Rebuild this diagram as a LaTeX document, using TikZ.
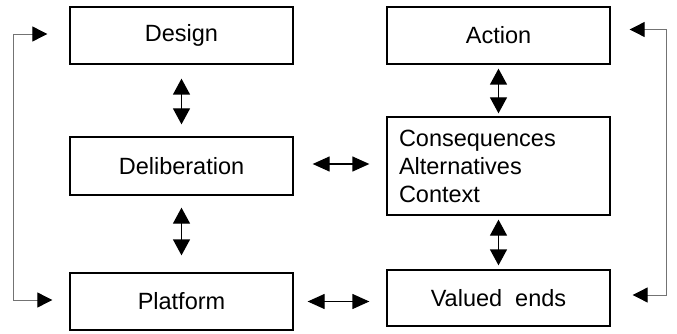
\documentclass[tikz,border=0pt]{standalone}
\usepackage{fontspec}
\setmainfont{Liberation Sans}
\usetikzlibrary{arrows.meta}

\begin{document}
\begin{tikzpicture}[x=1pt,y=-1pt,
  box/.style={draw, line width=1.3pt, minimum width=223pt, inner sep=0pt,
    font=\fontsize{23.5}{28}\selectfont},
  vdbl/.style={line width=1.3pt,
    {Triangle[length=16pt,width=17pt]}-{Triangle[length=16pt,width=17pt]}},
  hdbl/.style={line width=1.3pt,
    {Triangle[length=17pt,width=15pt]}-{Triangle[length=17pt,width=15pt]}},
  feedback/.style={line width=0.9pt, draw=black!55,
    -{Triangle[length=15pt,width=15pt,color=black]}},
]
\useasboundingbox (0,0) rectangle (677,334);

% left column
\node[box, minimum height=57pt] (design) at (181.5,35.5) {Design};
\node[box, minimum height=58pt] (delib)  at (181.5,166)  {Deliberation};
\node[box, minimum height=57pt] (plat)   at (181.5,301.5) {Platform};

% right column
\node[box, minimum height=57pt] (action) at (498.5,35.5) {Action};
\node[box, minimum height=98pt, text width=199pt, inner xsep=12pt, align=left]
  (cons) at (498.5,166) {Consequences\\Alternatives\\Context};
\node[box, minimum height=56pt] (val) at (498.5,298) {Valued\ \ ends};

% vertical links
\draw[vdbl, shorten <=14pt, shorten >=12pt] (design) -- (delib);
\draw[vdbl, shorten <=12pt, shorten >=17pt] (delib) -- (plat);
\draw[vdbl, shorten <=4pt, shorten >=3pt] (action) -- (cons);
\draw[vdbl, shorten <=4pt, shorten >=4pt] (cons) -- (val);

% horizontal links
\draw[hdbl, shorten <=19pt, shorten >=17pt]
  ([yshift=2pt]delib.east) -- ([yshift=2pt]cons.west);
\draw[hdbl, shorten <=14pt, shorten >=17pt]
  (plat.east) -- (plat.east -| val.west);

% feedback loops
\coordinate (lt) at ([xshift=-22pt,yshift=1.5pt]design.west);
\coordinate (lb) at ([xshift=-17pt,yshift=1.5pt]plat.west);
\coordinate (rt) at ([xshift=19pt,yshift=6pt]action.east);
\coordinate (rb) at ([xshift=22pt,yshift=3pt]val.east);
\draw[feedback] (lb) ++(-39,0) |- (lt);
\draw[feedback] (lt) ++(-34,0) |- (lb);
\draw[feedback] (rb) ++(34,0) |- (rt);
\draw[feedback] (rt) ++(37,0) |- (rb);
\end{tikzpicture}
\end{document}
